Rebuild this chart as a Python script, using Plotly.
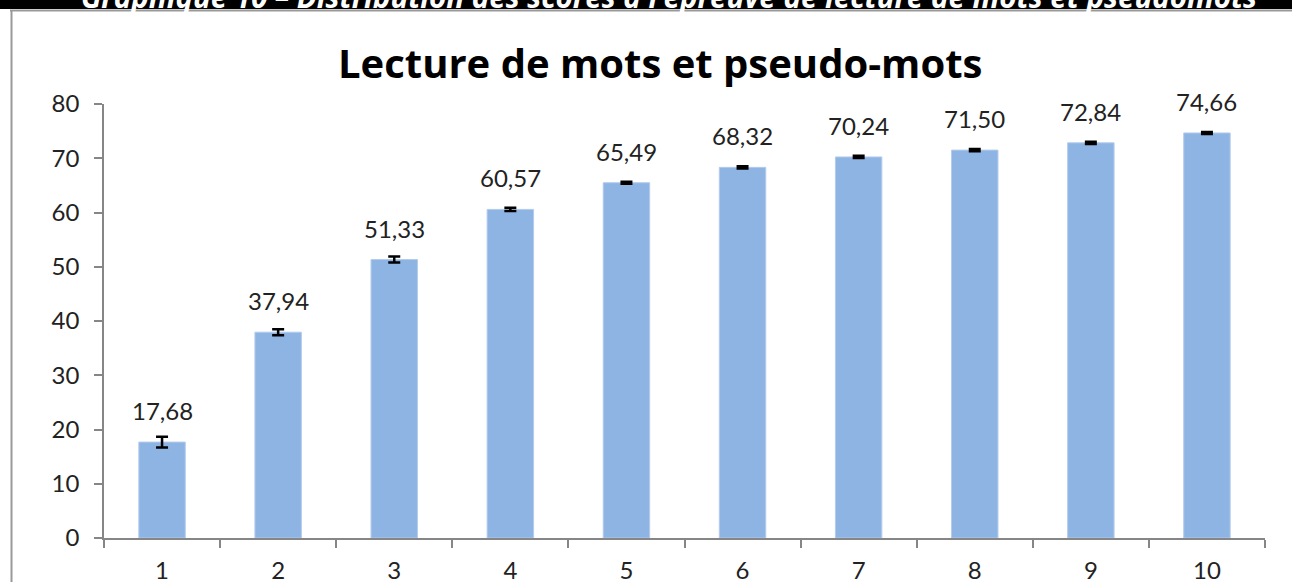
import plotly.graph_objects as go

categories = ["1", "2", "3", "4", "5", "6", "7", "8", "9", "10"]
scores = [17.68, 37.94, 51.33, 60.57, 65.49, 68.32, 70.24, 71.50, 72.84, 74.66]
errors = [1.0, 0.55, 0.55, 0.3, 0.2, 0.2, 0.2, 0.2, 0.2, 0.2]
y_ticks = [0, 10, 20, 30, 40, 50, 60, 70, 80]
title_text = "Lecture de mots et pseudo-mots"
caption_text = "Graphique 10 \u2013 Distribution des scores \u00e0 l\u2019\u00e9preuve de lecture de mots et pseudomots"

W, H = 1292, 582
L, R, T, B = 104, 27, 104, 44
pw, ph = W - L - R, H - T - B

def px(x):
    return (x - L) / pw

def py(y):
    return (H - B - y) / ph

FONT = "Lato"
TXT = "#222222"

fig = go.Figure()
fig.add_trace(go.Bar(
    x=categories, y=scores,
    marker=dict(color="#8EB4E3", line=dict(color="#B3CBEC", width=1)),
    error_y=dict(type="data", array=errors, visible=True, color="black", thickness=2.5, width=6),
    hoverinfo="skip",
))

annotations = []
for i, v in enumerate(scores):
    annotations.append(dict(
        x=i, y=v, xref="x", yref="y", text=f"{v:.2f}".replace(".", ","),
        showarrow=False, yanchor="bottom", yshift=15,
        font=dict(family=FONT, size=24, color=TXT),
    ))
annotations.append(dict(
    x=px(660), y=py(62), xref="paper", yref="paper", text=f"<b>{title_text}</b>",
    showarrow=False, xanchor="center", yanchor="middle",
    font=dict(family="Open Sans", size=40, color="black"),
))
annotations.append(dict(
    x=px(79), y=py(-3), xref="paper", yref="paper", text=f"<b><i>{caption_text}</i></b>",
    showarrow=False, xanchor="left", yanchor="middle",
    font=dict(family="Open Sans", size=29.5, color="white"),
))

shapes = [
    dict(type="rect", xref="paper", yref="paper", x0=px(-5), x1=px(W + 5), y0=py(9), y1=py(-5),
         fillcolor="black", line=dict(width=0), layer="below"),
    dict(type="line", xref="paper", yref="paper", x0=px(10), x1=px(W + 5), y0=py(10.5), y1=py(10.5),
         line=dict(color="#999999", width=2)),
    dict(type="line", xref="paper", yref="paper", x0=px(11.5), x1=px(11.5), y0=py(10), y1=py(H + 5),
         line=dict(color="#999999", width=2)),
]

fig.update_layout(
    width=W, height=H,
    margin=dict(l=L, r=R, t=T, b=B, pad=0, autoexpand=False),
    paper_bgcolor="white", plot_bgcolor="white",
    bargap=0.6, showlegend=False,
    annotations=annotations, shapes=shapes,
    font=dict(family=FONT, size=24, color=TXT),
)
fig.update_xaxes(
    type="category", automargin=False, showgrid=False, showline=True, linecolor="#868686", linewidth=1.5,
    ticks="outside", ticklen=8, tickcolor="#868686", tickwidth=1.5, tickson="boundaries",
    ticklabelstandoff=10, tickfont=dict(family=FONT, size=24, color=TXT),
)
fig.update_yaxes(
    range=[0, 80], tickvals=y_ticks, ticktext=[str(t) for t in y_ticks], automargin=False,
    showgrid=False, zeroline=False, showline=True, linecolor="#868686", linewidth=1.5,
    ticks="outside", ticklen=8, tickcolor="#868686", tickwidth=1.5,
    ticklabelstandoff=10, tickfont=dict(family=FONT, size=24, color=TXT),
)

fig.write_html(
    "out.html",
    config={"displayModeBar": False},
    post_script="document.body.style.margin='0';document.body.style.overflow='hidden';",
)
